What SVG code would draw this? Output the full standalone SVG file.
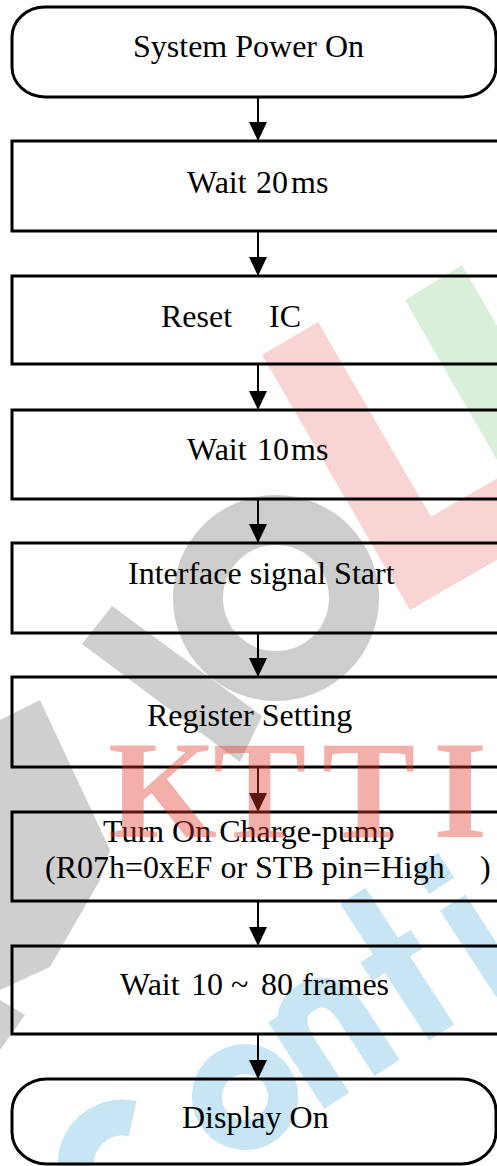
<svg xmlns="http://www.w3.org/2000/svg" width="497" height="1166" viewBox="0 0 497 1166">
<style>
.box{fill:none;stroke:#000;stroke-width:3}
.lbl{font-family:"Liberation Serif","Times New Roman",serif;font-size:32px;fill:#000}
.conn line{stroke:#000;stroke-width:2}
.wm-grey{fill:#cfcfcf}
.wm-red{fill:#f9d4d4}
.wm-green{fill:#daefda}
.wm-blue{fill:#c8e5f3}
.wm-blue-s{fill:none;stroke:#c8e5f3}
.ktti{font-family:"Liberation Serif","Times New Roman",serif;font-weight:bold;font-size:140px;fill:#e3392a;opacity:0.4}
</style>
<defs>
<path id="arrowhead" d="M-9,-19 L9,-19 L0,0 Z" fill="#000"/>
</defs>
<rect width="497" height="1166" fill="#fff"/>
<g id="watermark-back">
<circle cx="276" cy="598" r="78" fill="none" stroke="#cdcdcd" stroke-width="50"/>
<polygon class="wm-grey" points="82,644 112,606 262,716 240,762"/>
<polygon class="wm-grey" points="0,720 40,700 110,850 100,880 50,967 0,990"/>
<polygon class="wm-grey" points="0,1000 25,1015 0,1050"/>
<polygon class="wm-red" points="262,355 318,322 466,577 410,610"/>
<polygon class="wm-red" points="410,610 583,510 548,449 375,549"/>
<polygon class="wm-green" points="405,300 462,265 600,505 543,540"/>
<g transform="translate(245 1097) rotate(-33)">
<circle cx="0" cy="0" r="38" class="wm-blue-s" stroke-width="30"/>
<path d="M-36,-33 A47,47 0 1 0 -36,33" class="wm-blue-s" stroke-width="36" transform="translate(-70 -10)"/>
<rect x="60" y="-50" width="30" height="103" class="wm-blue"/>
<path d="M75,-10 Q75,-50 105,-50 Q135,-50 135,-10 L135,53" class="wm-blue-s" stroke-width="30"/>
<rect x="185" y="-110" width="30" height="163" class="wm-blue"/>
<rect x="170" y="-50" width="60" height="22" class="wm-blue"/>
<rect x="265" y="-50" width="30" height="103" class="wm-blue"/>
<rect x="265" y="-100" width="30" height="30" class="wm-blue"/>
</g>
</g>
<g id="n1-system-power-on">
<rect class="box" x="12" y="7" width="484" height="90" rx="33" ry="30"/>
<text class="lbl" x="133" y="57">System Power On</text>
</g>
<g id="n2-wait-20ms">
<rect class="box" x="12" y="141" width="490" height="90"/>
<text class="lbl" y="193"><tspan x="187">Wait</tspan><tspan x="256">20</tspan><tspan x="291">ms</tspan></text>
</g>
<g id="n3-reset-ic">
<rect class="box" x="12" y="276" width="490" height="88"/>
<text class="lbl" y="327"><tspan x="161">Reset</tspan><tspan x="269">IC</tspan></text>
</g>
<g id="n4-wait-10ms">
<rect class="box" x="12" y="410" width="490" height="89"/>
<text class="lbl" y="460"><tspan x="187">Wait</tspan><tspan x="257">10</tspan><tspan x="291">ms</tspan></text>
</g>
<g id="n5-interface-signal-start">
<rect class="box" x="12" y="543" width="490" height="90"/>
<text class="lbl" x="128" y="584">Interface signal Start</text>
</g>
<g id="n6-register-setting">
<rect class="box" x="12" y="677" width="490" height="90"/>
<text class="lbl" x="147" y="726">Register Setting</text>
</g>
<g id="n7-charge-pump">
<rect class="box" x="12" y="812" width="490" height="89"/>
<text class="lbl" x="103" y="842">Turn On Charge-pump</text>
<text class="lbl" y="878"><tspan x="45">(R07h=0xEF or STB pin=High</tspan><tspan x="480">)</tspan></text>
</g>
<g id="n8-wait-frames">
<rect class="box" x="12" y="946" width="490" height="88"/>
<text class="lbl" y="995"><tspan x="120">Wait</tspan><tspan x="191">10</tspan><tspan x="231">~</tspan><tspan x="261">80</tspan><tspan x="302">frames</tspan></text>
</g>
<g id="n9-display-on">
<rect class="box" x="12" y="1079" width="484" height="85" rx="35" ry="32"/>
<text class="lbl" x="182" y="1128">Display On</text>
</g>
<g id="connectors">
<g class="conn">
<line x1="258" y1="97" x2="258" y2="124"/>
<line x1="258" y1="231" x2="258" y2="259"/>
<line x1="258" y1="364" x2="258" y2="393"/>
<line x1="258" y1="499" x2="258" y2="526"/>
<line x1="258" y1="633" x2="258" y2="660"/>
<line x1="258" y1="767" x2="258" y2="795"/>
<line x1="258" y1="901" x2="258" y2="929"/>
<line x1="258" y1="1034" x2="258" y2="1062"/>
</g>
<use href="#arrowhead" x="258" y="141"/>
<use href="#arrowhead" x="258" y="276"/>
<use href="#arrowhead" x="258" y="410"/>
<use href="#arrowhead" x="258" y="543"/>
<use href="#arrowhead" x="258" y="677"/>
<use href="#arrowhead" x="258" y="812"/>
<use href="#arrowhead" x="258" y="946"/>
<use href="#arrowhead" x="258" y="1079"/>
</g>
<g id="watermark-front">
<text class="ktti" y="837"><tspan x="108">K</tspan><tspan x="213">T</tspan><tspan x="322">T</tspan><tspan x="433">I</tspan></text>
</g>
</svg>
